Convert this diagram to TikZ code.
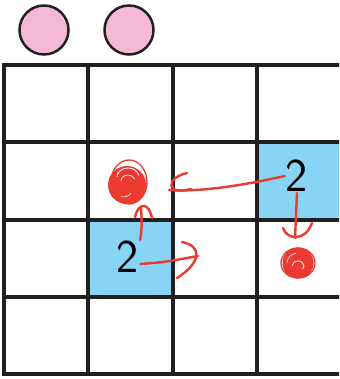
\documentclass[tikz,border=0pt]{standalone}
\usepackage{fontspec}
\usepackage{tikz}

\definecolor{pinkdot}{HTML}{F6B9D5}
\definecolor{bluecell}{HTML}{88D4F4}
\definecolor{inkgray}{HTML}{231F20}
\definecolor{penred}{HTML}{EB3A2F}

\begin{document}
\begin{tikzpicture}[x=1pt, y=-1pt,
        gridline/.style={draw=inkgray, line width=3.2pt},
        pinkball/.style={draw=inkgray, fill=pinkdot, circle, line width=2.5pt, minimum size=49pt, inner sep=0pt},
        digit/.style={font=\sffamily\fontsize{47}{47}\selectfont, inner sep=1pt},
        scribble/.style={draw=penred, line width=2.4pt, line cap=round, line join=round},
        blob/.style={fill=penred, circle, inner sep=0pt}]
        \useasboundingbox (0,0) rectangle (339,379);
        \clip (0,0) rectangle (339,379);

        % Cells
        \fill[bluecell] (88,220) rectangle (173,297);
        \fill[bluecell] (257,142) rectangle (345,220);
        \foreach \x in {4,88,173,257}
            \draw[gridline] (\x,63.5) -- (\x,375.6);
        \foreach \y in {65,142,220,297,374}
            \draw[gridline] (2.4,\y) -- (345,\y);

        % Nodes
        \node[pinkball] (pink1) at (44,30) {};
        \node[pinkball] (pink2) at (129,30) {};
        \node[digit] (two1) at (128,257) {2};
        \node[digit] (two2) at (297,176) {2};
        \node[blob, minimum size=38pt] (dot1) at (127,185) {};
        \node[blob, minimum size=31pt] (dot2) at (298,263) {};

        % Scribbles on the dots
        \draw[penred, line width=1.3pt] (dot1) ++(2,-3) ellipse (18 and 22);
        \draw[white, line width=0.9pt] (dot1) ++(-10,-8) arc (180:350:11 and 9);
        \draw[white, line width=0.7pt] (dot1) ++(-6,-4) arc (180:340:7 and 6);
        \draw[white, line width=0.6pt] (dot1) ++(4,8) arc (20:110:8 and 6);
        \draw[penred, line width=1.3pt] (dot2) ellipse (17 and 15);
        \draw[white, line width=0.8pt] (dot2) ++(-6,3) arc (180:400:6 and 5);
        \draw[white, line width=0.6pt] (dot2) ++(-11,0) arc (180:260:11 and 10);

        % Arrow tips
        \coordinate (tipL) at (169,190);
        \coordinate (tipR) at (198,256);
        \coordinate (tipU) at (141,207);
        \coordinate (tipD) at (295,238);

        % Edges
        \draw[scribble] (two2.west) .. controls (240,186) and (200,192) .. (tipL);
        \draw[scribble] ([shift={(18,-17)}]tipL) .. controls ([shift={(-4,-12)}]tipL)
            and ([shift={(-3,6)}]tipL) .. ([shift={(22,-1)}]tipL);
        \draw[scribble] ([shift={(0,7)}]two1.east) .. controls (165,262) .. (tipR);
        \draw[scribble] ([shift={(-16,-14)}]tipR) .. controls ([shift={(4,-10)}]tipR)
            and ([shift={(4,6)}]tipR) .. ([shift={(-21,22)}]tipR);
        \draw[scribble] (two1.north east) .. controls (142,225) .. (tipU);
        \draw[scribble] ([shift={(-6,10)}]tipU) .. controls ([shift={(-2,-6)}]tipU)
            and ([shift={(8,-4)}]tipU) .. ([shift={(11,11)}]tipU);
        \draw[scribble] (two2.south) .. controls (296,215) .. (tipD);
        \draw[scribble] ([shift={(-12,-10)}]tipD) .. controls ([shift={(-8,2)}]tipD)
            and ([shift={(10,4)}]tipD) .. ([shift={(17,-15)}]tipD);
    \end{tikzpicture}
\end{document}
